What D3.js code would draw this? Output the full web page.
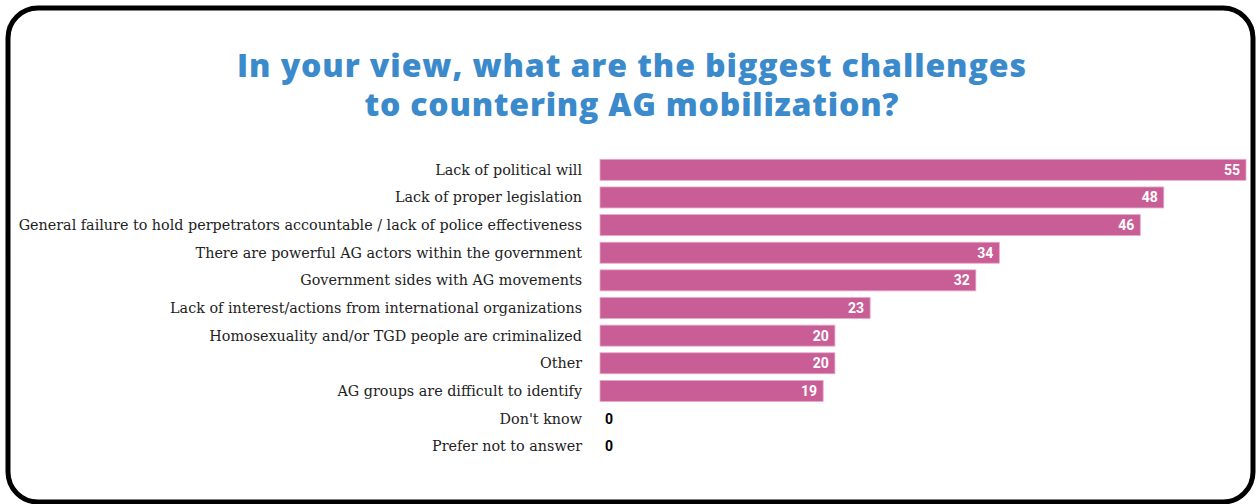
<!DOCTYPE html>
<html><head><meta charset="utf-8">
<script src="https://cdn.jsdelivr.net/npm/d3@7"></script>
<style>body{margin:0;background:#fff}svg{display:block}</style>
</head><body>
<svg id="chart" width="1257" height="504"></svg>
<script>
const categories = [
  "Lack of political will",
  "Lack of proper legislation",
  "General failure to hold perpetrators accountable / lack of police effectiveness",
  "There are powerful AG actors within the government",
  "Government sides with AG movements",
  "Lack of interest/actions from international organizations",
  "Homosexuality and/or TGD people are criminalized",
  "Other",
  "AG groups are difficult to identify",
  "Don't know",
  "Prefer not to answer"
];
const values = [55, 48, 46, 34, 32, 23, 20, 20, 19, 0, 0];
const titleLines = ["In your view, what are the biggest challenges", "to countering AG mobilization?"];

const svg = d3.select("#chart");

svg.append("rect").attr("x", 8).attr("y", 8).attr("width", 1245).attr("height", 494)
  .attr("rx", 30).attr("ry", 30).attr("fill", "#fff").attr("stroke", "#000").attr("stroke-width", 5);

// Title
const titleColor = "#3B8ACB";
const tTargets = [{y: 77, w: 789}, {y: 116, w: 534}];
titleLines.forEach((t, i) => {
  svg.append("text").attr("x", 631.5).attr("y", tTargets[i].y)
    .attr("text-anchor", "middle").attr("fill", titleColor)
    .attr("textLength", tTargets[i].w).attr("lengthAdjust", "spacing")
    .style("font-family", "'Open Sans', Lato, sans-serif").style("font-weight", 800)
    .style("font-size", "32px").text(t);
});

const x = d3.scaleLinear().domain([0, 55]).range([600, 1246]);
const y = d3.scaleBand().domain(categories).range([156, 460]).paddingInner(0.24).paddingOuter(0.12);

const barColor = "#C95E96";
const g = svg.append("g");
g.selectAll("rect.bar").data(values).join("rect").attr("class", "bar")
  .attr("x", x(0)).attr("y", (d, i) => y(categories[i]))
  .attr("width", d => x(d) - x(0)).attr("height", y.bandwidth())
  .attr("fill", barColor).attr("stroke", "#E7A9C9").attr("stroke-width", 0.8)
  .style("display", d => d > 0 ? null : "none");

const labels = g.selectAll("text.cat").data(categories).join("text").attr("class", "cat")
  .attr("x", 582).attr("y", d => y(d) + y.bandwidth() / 2).attr("dy", "0.35em")
  .attr("text-anchor", "end").attr("fill", "#222")
  .style("font-family", "'DejaVu Serif', serif").style("font-size", "14px").text(d => d);
const longest = labels.filter((d, i) => i === 2).node();
const fsL = 14 * 564 / longest.getComputedTextLength();
labels.style("font-size", fsL + "px");

g.selectAll("text.val").data(values).join("text").attr("class", "val")
  .attr("x", d => d > 0 ? x(d) - 6 : x(0) + 5)
  .attr("y", (d, i) => y(categories[i]) + y.bandwidth() / 2).attr("dy", "0.36em")
  .attr("text-anchor", d => d > 0 ? "end" : "start")
  .attr("fill", d => d > 0 ? "#fff" : "#000")
  .style("font-family", "Roboto, sans-serif").style("font-weight", 700).style("font-size", "14px")
  .text(d => d);
</script>
</body></html>
